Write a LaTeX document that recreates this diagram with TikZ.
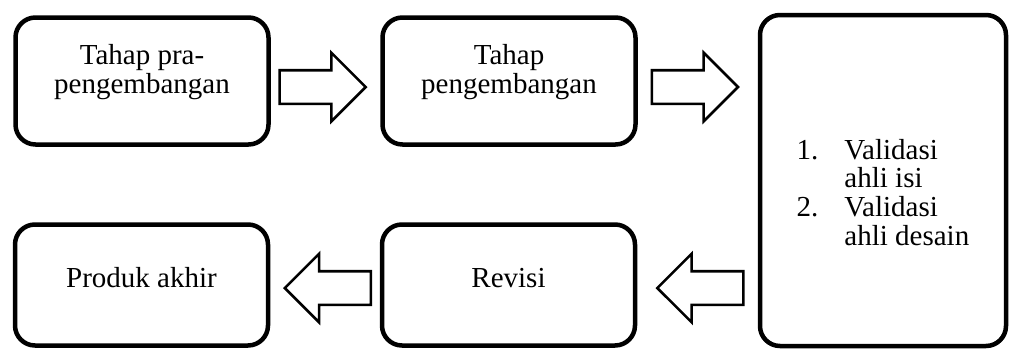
\documentclass[tikz,border=0pt]{standalone}
\usepackage{fontspec}
\setmainfont{Liberation Serif}
\usetikzlibrary{shapes.arrows,calc}

\begin{document}
\begin{tikzpicture}[
  x=1pt, y=-1pt,
  font=\fontsize{29}{28.5}\selectfont,
  box/.style={draw, line width=4.5pt, rounded corners=20pt, align=center, inner sep=0pt},
  topbox/.style={box, minimum width=253pt, minimum height=127pt},
  lowbox/.style={box, minimum width=253pt, minimum height=121pt,
                 text height=20pt, text depth=16pt},
  blockarr/.style={draw, line width=2.6pt, single arrow, single arrow head extend=17.5pt,
                   minimum height=86pt, inner xsep=0pt, inner ysep=15.5pt, anchor=tip},
  backarr/.style={blockarr, shape border rotate=180}
]
\useasboundingbox (0,0) rectangle (1010,349);
% top row
\node[topbox] (pra) at (142,81) {Tahap pra-\\pengembangan\rule[-24pt]{0pt}{0pt}};
\node[topbox] (dev) at (509,81) {Tahap\\pengembangan\rule[-24pt]{0pt}{0pt}};
\node[box, minimum width=246pt, minimum height=331pt] (valid) at (883,180.5)
  {\begin{tabular}{@{}l@{\hspace{26pt}}l@{}}
   \rule{0pt}{52pt}1. & Validasi\\
      & ahli isi\\
   2. & Validasi\\
      & ahli desain
   \end{tabular}};
% bottom row
\node[lowbox] (revisi) at (508.5,285) {Revisi};
\node[lowbox] (produk) at (141.5,285) {Produk akhir};
% block arrows, placed by their tips
\node[blockarr] (a1) at ($(pra.east)!0.5!(dev.west)+(42,6)$) {};
\node[blockarr] (a2) at ($(dev.east)!0.5!(dev.east -| valid.west)+(42,6)$) {};
\node[backarr] (a3) at ($(revisi.east)!0.5!(revisi.east -| valid.west)+(-42,3)$) {};
\node[backarr] (a4) at ($(produk.east)!0.5!(revisi.west)+(-42,3)$) {};
\end{tikzpicture}
\end{document}
